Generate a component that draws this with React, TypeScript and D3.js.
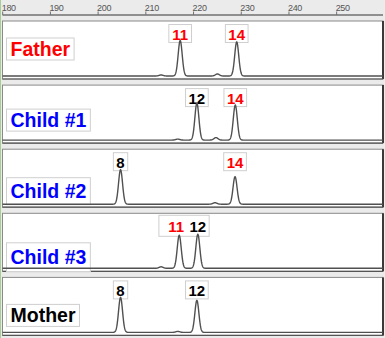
import React from "react";
import * as d3 from "d3";

const W = 385;
const H = 338;

const bpTicks = [180, 190, 200, 210, 220, 230, 240, 250];
const panelNames = ["Father", "Child #1", "Child #2", "Child #3", "Mother"];
const panelNameColors = ["#ff0000", "#0000ff", "#0000ff", "#0000ff", "#000000"];

// peaks: bp position, height (RFU)
const fatherPeaks = [
  { bp: 213.2, rfu: 20 },
  { bp: 217.2, rfu: 710 },
  { bp: 225.0, rfu: 40 },
  { bp: 229.05, rfu: 680 },
];
const child1Peaks = [
  { bp: 216.7, rfu: 20 },
  { bp: 220.7, rfu: 740 },
  { bp: 224.7, rfu: 50 },
  { bp: 228.75, rfu: 700 },
];
const child2Peaks = [
  { bp: 204.7, rfu: 690 },
  { bp: 224.5, rfu: 30 },
  { bp: 228.7, rfu: 550 },
];
const child3Peaks = [
  { bp: 213.2, rfu: 30 },
  { bp: 217.0, rfu: 660 },
  { bp: 220.9, rfu: 680 },
];
const motherPeaks = [
  { bp: 204.7, rfu: 700 },
  { bp: 216.7, rfu: 20 },
  { bp: 220.7, rfu: 640 },
];

// allele calls: bp, allele name, paternal (red) or not
const fatherAlleles = [
  { bp: 217.2, allele: "11", paternal: true },
  { bp: 229.05, allele: "14", paternal: true },
];
const child1Alleles = [
  { bp: 220.7, allele: "12", paternal: false },
  { bp: 228.75, allele: "14", paternal: true },
];
const child2Alleles = [
  { bp: 204.7, allele: "8", paternal: false },
  { bp: 228.7, allele: "14", paternal: true },
];
const child3Alleles = [
  { bp: 217.0, allele: "11", paternal: true },
  { bp: 220.9, allele: "12", paternal: false },
];
const motherAlleles = [
  { bp: 204.7, allele: "8", paternal: false },
  { bp: 220.7, allele: "12", paternal: false },
];

const panelPeaks = [fatherPeaks, child1Peaks, child2Peaks, child3Peaks, motherPeaks];
const panelAlleles = [fatherAlleles, child1Alleles, child2Alleles, child3Alleles, motherAlleles];

// layout
const PANEL_TOP0 = 21;
const PANEL_STEP = 64.1;
const PANEL_H = 58;
const PANEL_X0 = 2.5;
const PANEL_X1 = 383;
const nameCenterOffsets = [28, 35, 42, 44, 38];
const nameBoxHeights = [22, 22, 27, 29, 22];
const SIGMA = 0.42;
const FONT = "'Liberation Sans', Arial, Helvetica, sans-serif";

function textWidth(s: string, size: number): number {
  // Arial bold advance widths
  const wmap: Record<string, number> = {
    F: 611, a: 556, t: 333, h: 611, e: 556, r: 389, C: 722, i: 278, l: 278, d: 611,
    " ": 278, "#": 556, M: 833, o: 611,
  };
  let w = 0;
  for (const c of s) w += (/[0-9]/.test(c) ? 556 : wmap[c] ?? 600);
  return (w * size) / 1000;
}

export default function App() {
  const x = d3.scaleLinear().domain([180, 260]).range([2.7, 2.7 + 80 * 4.771]);
  const samples = d3.range(178, 262, 0.05);

  return (
    <svg
      width={W}
      height={H}
      style={{ position: "absolute", left: 0, top: 0, display: "block" }}
      fontFamily={FONT}
    >
      <defs>
        <clipPath id="plotclip">
          <rect x={PANEL_X0} y={0} width={PANEL_X1 - PANEL_X0} height={H} />
        </clipPath>
      </defs>
      <rect x={0} y={0} width={W} height={H} fill="#ebebeb" />
      <line x1={0.5} x2={0.5} y1={0} y2={H} stroke="#a6cf96" strokeWidth={1} />
      {/* ruler */}
      <line x1={PANEL_X0} x2={PANEL_X1} y1={15} y2={15} stroke="#707070" strokeWidth={1.5} />
      {bpTicks.map((t) => (
        <g key={t}>
          <line x1={x(t)} x2={x(t)} y1={11.5} y2={15} stroke="#707070" strokeWidth={1} />
          <text x={x(t) - 1} y={10.5} fontSize={9} fill="#555" letterSpacing={-0.3}>
            {t}
          </text>
        </g>
      ))}
      {panelNames.map((name, i) => {
        const top = PANEL_TOP0 + i * PANEL_STEP;
        const bottom = top + PANEL_H;
        const base = bottom - 3;
        const y = d3.scaleLinear().domain([0, 1000]).range([base, base - 50]);
        const peaks = panelPeaks[i];
        const line = d3
          .line<number>()
          .x((b) => x(b))
          .y((b) =>
            y(
              d3.sum(peaks, (p) => p.rfu * Math.exp(-((b - p.bp) ** 2) / (2 * SIGMA * SIGMA)))
            )
          );
        const alleles = panelAlleles[i];
        // group close alleles into a single box
        const groups: typeof alleles[] = [];
        alleles.forEach((a) => {
          const g = groups[groups.length - 1];
          if (g && a.bp - g[g.length - 1].bp < 6) g.push(a);
          else groups.push([a]);
        });
        const nameSize = 19.5;
        const nw = textWidth(name, nameSize);
        const nc = top + nameCenterOffsets[i];
        const nbh = nameBoxHeights[i];
        return (
          <g key={name}>
            <rect
              x={PANEL_X0}
              y={top}
              width={PANEL_X1 - PANEL_X0}
              height={PANEL_H}
              fill="#ffffff"
              stroke="#8a8a8a"
              strokeWidth={1}
            />
            <line x1={PANEL_X1} x2={PANEL_X1} y1={top} y2={bottom} stroke="#3a3a3a" strokeWidth={2} />
            <line x1={PANEL_X0} x2={PANEL_X1} y1={bottom} y2={bottom} stroke="#555" strokeWidth={1.2} />
            {/* name label */}
            <rect
              x={6.5}
              y={nc - nbh / 2}
              width={nw + 8}
              height={nbh}
              fill="#fff"
              stroke="#cfcfcf"
              strokeWidth={1}
            />
            <text
              x={10.5}
              y={nc + 7}
              fontSize={nameSize}
              fontWeight="bold"
              fill={panelNameColors[i]}
            >
              {name}
            </text>
            {/* allele labels */}
            {groups.map((g, gi) => {
              const size = 15;
              const lefts = g.map((a) => x(a.bp) - textWidth(a.allele, size) / 2);
              const rights = g.map((a) => x(a.bp) + textWidth(a.allele, size) / 2);
              const padL = g.length > 1 ? 12 : 3;
              const bx0 = Math.min(...lefts) - padL;
              const bx1 = Math.max(...rights) + 3;
              const by = top + (g.length > 1 ? 2 : 3.5);
              const bh = g.length > 1 ? 21 : 18;
              return (
                <g key={gi}>
                  <rect
                    x={bx0}
                    y={by}
                    width={bx1 - bx0}
                    height={bh}
                    fill="#fff"
                    stroke="#cfcfcf"
                    strokeWidth={1}
                  />
                  {g.map((a) => (
                    <text
                      key={a.allele}
                      x={x(a.bp) - (g.length > 1 && a.paternal ? 3 : 0)}
                      y={by + (g.length > 1 ? 17 : 15)}
                      textAnchor="middle"
                      fontSize={size}
                      fontWeight="bold"
                      fill={a.paternal ? "#ff0000" : "#000000"}
                    >
                      {a.allele}
                    </text>
                  ))}
                </g>
              );
            })}
            <path
              d={line(samples) ?? ""}
              fill="none"
              stroke="#505050"
              strokeWidth={1.4}
              clipPath="url(#plotclip)"
            />
          </g>
        );
      })}
    </svg>
  );
}
